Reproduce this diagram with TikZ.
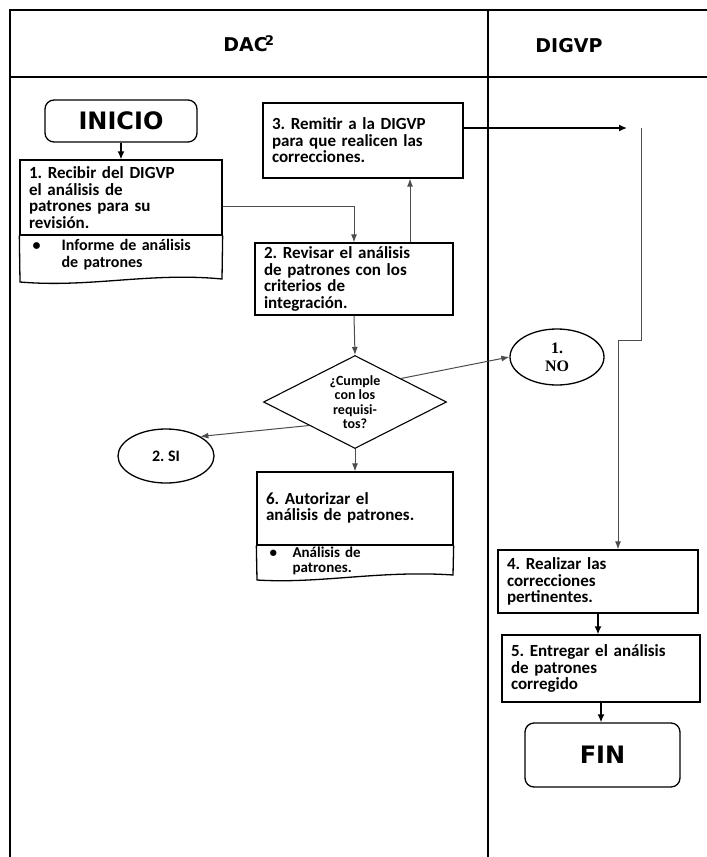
\documentclass[tikz,border=0pt]{standalone}
\usepackage{fontspec}
\setmainfont{Carlito}
\newfontfamily\headfont{DejaVu Sans}
\newfontfamily\serfont{Liberation Serif}
\usetikzlibrary{shapes.geometric,arrows.meta,positioning}
\frenchspacing

\tikzset{
  proc/.style={draw, line width=1.3pt, rectangle, align=left, inner xsep=9pt, inner ysep=3pt,
    font=\bfseries\fontsize{17pt}{16.5pt}\selectfont},
  doctext/.style={align=left, inner xsep=9pt, inner ysep=1pt,
    font=\bfseries\fontsize{15pt}{15.5pt}\selectfont},
  terminal/.style={draw, line width=1.3pt, rounded corners=9pt,
    font=\headfont\bfseries\fontsize{24pt}{28pt}\selectfont},
  decision/.style={draw, line width=1.1pt, diamond, aspect=2, inner sep=0pt, align=center,
    font=\bfseries\fontsize{14pt}{14.5pt}\selectfont},
  joint/.style={draw, line width=1.3pt, ellipse, inner sep=0pt, align=center},
  flow/.style={draw=black!70, line width=1pt, -{Latex[length=8pt,width=6pt]}},
  flowdark/.style={draw=black, line width=1.4pt, -{Latex[length=8pt,width=7pt]}},
}

\begin{document}
\begin{tikzpicture}[x=1pt,y=-1pt]
    \useasboundingbox (0,0) rectangle (707,857);
    %Lanes
        \draw[line width=2pt] (10,857) -- (10,10) -- (707,10);
        \draw[line width=2pt] (10,77) -- (707,77);
        \draw[line width=2pt] (488,10) -- (488,857);
        \node[font=\headfont\bfseries\fontsize{19pt}{22pt}\selectfont] (dac) at (249,44) {DAC\kern-3pt\textsuperscript{2}};
        \node[font=\headfont\bfseries\fontsize{19pt}{22pt}\selectfont] (digvp) at (569,46) {DIGVP};
    %Start
        \node[terminal, minimum width=152, minimum height=42] (inicio) at (121,121) {INICIO};
    %Step 1
        \node[proc, minimum width=202, minimum height=75, text width=184] (recibir) at (121,197.5)
            {1. Recibir del DIGVP\\el análisis de\\patrones para su\\revisión.};
        \node[doctext, text width=184, anchor=north west, inner ysep=3pt,
              font=\bfseries\fontsize{16pt}{17pt}\selectfont] (informe) at (recibir.south west)
            {\makebox[33pt][l]{\hspace{4pt}\textbullet}Informe de análisis\\\hspace*{33pt}de patrones};
        \draw[line width=1.3pt] (recibir.south west) -- (20,282) .. controls (90,288) and (150,272) .. (222,279) -- (recibir.south east);
    %Step 3
        \node[proc, minimum width=200, minimum height=75, text width=182] (remitir) at (363,140.5)
            {3. Remitir a la DIGVP\\para que realicen las\\correcciones.};
    %Step 2
        \node[proc, minimum width=198, minimum height=72, text width=180] (revisar) at (354,279)
            {2. Revisar el análisis\\de patrones con los\\criterios de\\integración.};
    %Decision
        \node[decision, minimum width=183, minimum height=93] (cumple) at (355,402)
            {¿Cumple\\con los\\requisi-\\tos?};
        \node[joint, minimum width=96, minimum height=54, font=\bfseries\fontsize{16pt}{16pt}\selectfont] (si) at (166,456) {2. SI};
        \node[joint, minimum width=94, minimum height=56, font=\serfont\bfseries\fontsize{16pt}{18pt}\selectfont] (no) at (557,357) {1.\\NO};
    %Step 6
        \node[proc, minimum width=196, minimum height=73, text width=178] (autorizar) at (355,508.5)
            {\\[-6pt]6. Autorizar el\\análisis de patrones.};
        \node[doctext, text width=178, anchor=north west] (analisis) at (autorizar.south west)
            {\makebox[27pt][l]{\hspace{4pt}\textbullet}Análisis de\\\hspace*{27pt}patrones.};
        \draw[line width=1.3pt] (autorizar.south west) -- (257,580) .. controls (320,584) and (380,570) .. (453,575) -- (autorizar.south east);
    %Steps 4 and 5
        \node[proc, minimum width=200, minimum height=63, text width=182] (realizar) at (598,581.5)
            {4. Realizar las\\correcciones\\pertinentes.};
        \node[proc, minimum width=198, minimum height=67, text width=180] (entregar) at (601,668.5)
            {5. Entregar el análisis\\de patrones\\corregido};
    %End
        \node[terminal, minimum width=155, minimum height=64] (fin) at (602.5,755) {FIN};
    %Flow
        \coordinate (tip) at (627,128);
        \coordinate (down) at (641,128);
        \coordinate (bend) at (641,340);
        \coordinate (jog) at (618,340);
        \draw[flowdark] (inicio.south) -- (recibir.north);
        \draw[flow] ([yshift=-9pt]recibir.east) -| (revisar.north);
        \draw[flow] ([xshift=56pt]revisar.north) -- ([xshift=56pt]revisar.north |- remitir.south);
        \draw[flowdark] ([yshift=12.5pt]remitir.east) -- (tip);
        \draw[flow] (down) -- (bend) -- (jog) -- (jog |- realizar.north);
        \draw[flow] (revisar.south) -- (cumple.north);
        \draw[flow] (cumple.north east) -- (no.west);
        \draw[flow] (cumple.south west) -- (si.north east);
        \draw[flow] (cumple.south) -- (autorizar.north);
        \draw[flowdark] (realizar.south) -- (realizar.south |- entregar.north);
        \draw[flowdark] (entregar.south) -- (entregar.south |- fin.north);
\end{tikzpicture}
\end{document}
